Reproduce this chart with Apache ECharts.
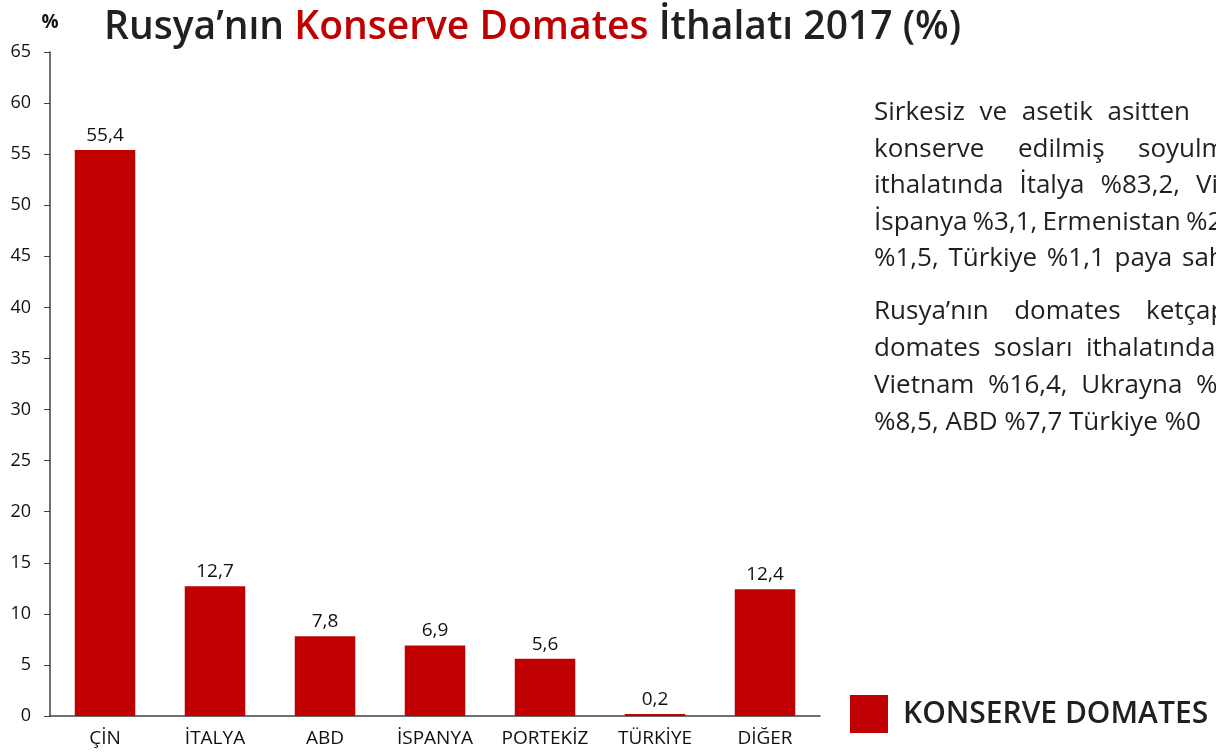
<!DOCTYPE html>
<html><head><meta charset="utf-8">
<script src="https://cdn.jsdelivr.net/npm/echarts@6/dist/echarts.min.js"></script>
<style>html,body{margin:0;padding:0;background:#fff}#c{width:1216px;height:754px}</style>
</head><body><div id="c"></div>
<script>
// ---- data ----
const categories = ['ÇİN', 'İTALYA', 'ABD', 'İSPANYA', 'PORTEKİZ', 'TÜRKİYE', 'DİĞER'];
const values = [55.4, 12.7, 7.8, 6.9, 5.6, 0.2, 12.4];
const seriesName = 'KONSERVE DOMATES';
const yMin = 0, yMax = 65, yStep = 5;
const titleParts = ['Rusya’nın ', 'Konserve Domates', ' İthalatı 2017 (%)'];
const para1 = [
  ['Sirkesiz', 've', 'asetik', 'asitten'],
  ['konserve', 'edilmiş', 'soyulmuş'],
  ['ithalatında', 'İtalya', '%83,2,', 'Vietnam'],
  ['İspanya', '%3,1,', 'Ermenistan', '%2,'],
  ['%1,5,', 'Türkiye', '%1,1', 'paya', 'sahiptir.']
];
const para2 = [
  ['Rusya’nın', 'domates', 'ketçap'],
  ['domates', 'sosları', 'ithalatında'],
  ['Vietnam', '%16,4,', 'Ukrayna', '%'],
  ['%8,5,', 'ABD', '%7,7', 'Türkiye', '%0']
];
// ---- layout only: justification anchors [index of anchor word, x, 'start'|'end'] ----
const anchors1 = [[3, 1190, 'end'], [2, 1138, 'start'], [3, 1196, 'start'], [3, 1186, 'start'], [4, 1182, 'start']];
const anchors2 = [[2, 1146, 'start'], [2, 1086, 'start'], [3, 1196, 'start'], null];

const FONT = '"Open Sans", "Noto Sans", sans-serif';
const FS = 26;
const cv = document.createElement('canvas').getContext('2d');
cv.font = FS + 'px "Open Sans"';
const mw = w => cv.measureText(w).width;
function lineElems(words, anchor, y) {
  let gap = mw(' ');
  if (anchor) {
    const [idx, ax, mode] = anchor;
    let sum = 0;
    for (let k = 0; k < idx; k++) sum += mw(words[k]);
    if (mode === 'end') sum += mw(words[idx]);
    gap = Math.max(2, (ax - 874 - sum) / idx);
  }
  let x = 874;
  return words.map(w => {
    const el = {type: 'text', left: x, top: y,
      style: {text: w, fontSize: FS, fontFamily: FONT, fill: '#231f20'}};
    x += mw(w) + gap;
    return el;
  });
}
const graphics = [];
para1.forEach((ws, i) => graphics.push(...lineElems(ws, anchors1[i], 100 + i * 36.5)));
para2.forEach((ws, i) => graphics.push(...lineElems(ws, anchors2[i], 299 + i * 37)));

const chart = echarts.init(document.getElementById('c'), null, {renderer: 'canvas'});
chart.setOption({
  animation: false,
  textStyle: {fontFamily: FONT},
  title: {
    text: '{a|' + titleParts[0] + '}{b|' + titleParts[1] + '}{a|' + titleParts[2] + '}',
    left: 104, top: 3, padding: 0,
    textStyle: {rich: {
      a: {fontSize: 39, lineHeight: 50, fontWeight: 600, color: '#231f20', fontFamily: FONT},
      b: {fontSize: 39, lineHeight: 50, fontWeight: 600, color: '#c00000', fontFamily: FONT}
    }}
  },
  legend: {
    left: 850, top: 695, padding: 0, itemWidth: 38, itemHeight: 38, icon: 'rect',
    data: [seriesName],
    textStyle: {fontSize: 30, fontWeight: 600, color: '#231f20', padding: [0, 0, 0, 10]}
  },
  grid: {left: 50, right: 396, top: 52, bottom: 38, containLabel: false},
  xAxis: {
    type: 'category', data: categories,
    axisLine: {lineStyle: {color: '#404040', width: 1.5}},
    axisTick: {show: false},
    axisLabel: {color: '#111', fontSize: 19, margin: 13, interval: 0}
  },
  yAxis: {
    type: 'value', min: yMin, max: yMax, interval: yStep,
    name: '%', nameLocation: 'end', nameGap: 20,
    nameTextStyle: {fontSize: 19, fontWeight: 'bold', color: '#111', align: 'center'},
    axisLine: {show: true, lineStyle: {color: '#404040', width: 1.5}},
    axisTick: {show: true, length: 6, lineStyle: {color: '#404040'}},
    splitLine: {show: false},
    axisLabel: {color: '#111', fontSize: 18, margin: 19}
  },
  series: [{
    name: seriesName, type: 'bar', data: values, barWidth: '55%',
    itemStyle: {color: '#c00000'},
    label: {show: true, position: 'top', distance: 5, fontSize: 19, color: '#111',
      formatter: p => String(p.value).replace('.', ',')}
  }],
  graphic: graphics
});
</script></body></html>
